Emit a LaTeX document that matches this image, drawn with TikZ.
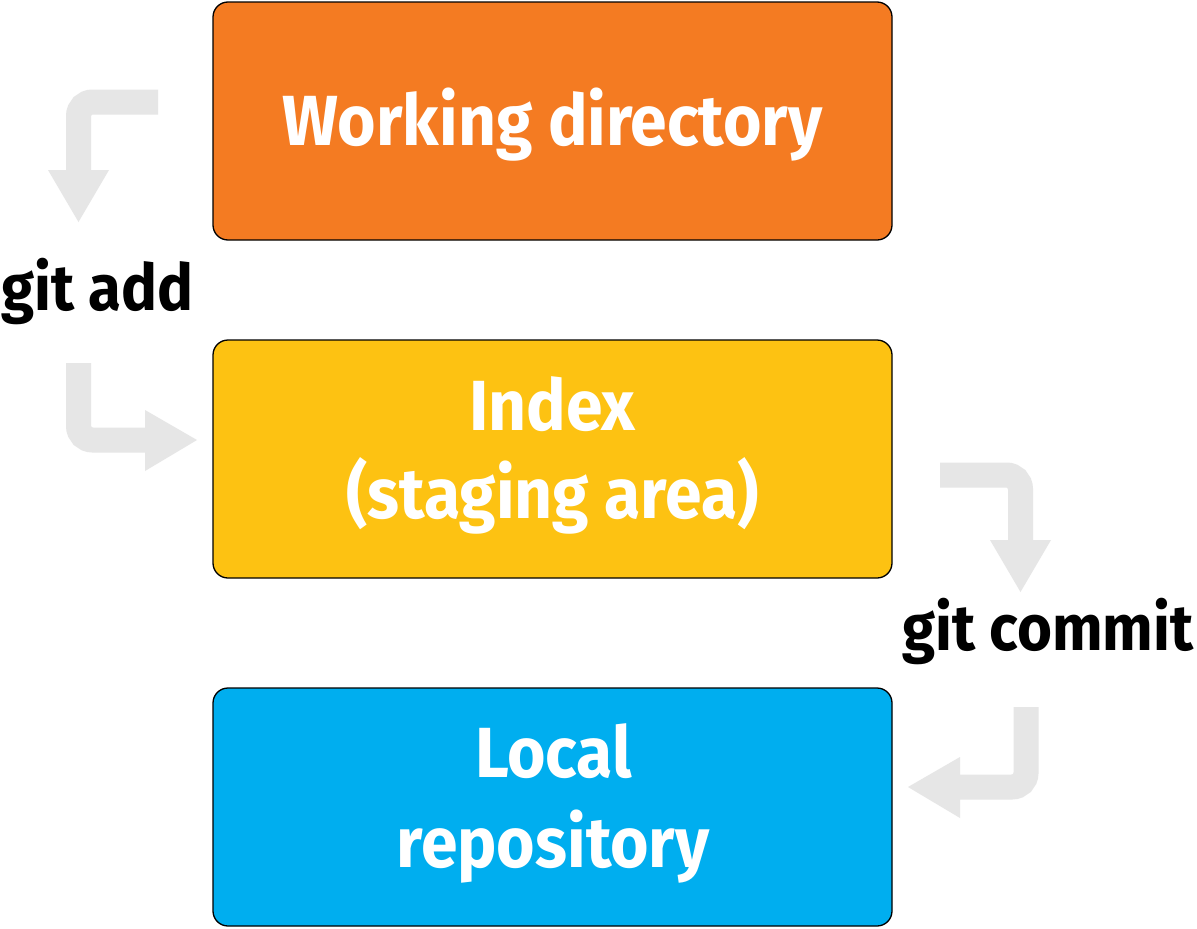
\documentclass[tikz,border=0pt]{standalone}
\usepackage{fontspec}
\setmainfont{Fira Sans}[FakeStretch=0.93]
\definecolor{wdorange}{HTML}{F47B22}
\definecolor{idxyellow}{HTML}{FDC212}
\definecolor{repoblue}{HTML}{00AEEF}
\definecolor{flowgrey}{HTML}{E6E6E6}
\tikzset{
  stagebox/.style={draw=black, line width=1.3pt, rounded corners=15pt,
    minimum width=679pt, minimum height=238pt, inner sep=0pt},
  boxtext/.style={anchor=base, text=white, inner sep=0pt,
    font=\fontsize{71}{85}\selectfont\bfseries},
  cmdtext/.style={anchor=base, text=black, inner sep=0pt,
    font=\fontsize{64.5}{78}\selectfont\bfseries},
  flow/.style={draw=flowgrey, line width=25pt, rounded corners=14pt, line cap=butt},
  flowhead/.style={fill=flowgrey, draw=none, sharp corners}
}
\begin{document}
\begin{tikzpicture}[x=1pt,y=-1pt]
\useasboundingbox[fill=white] (0,0) rectangle (1197,929);
% boxes
\node[stagebox, fill=wdorange] (wd) at (552.5,121) {};
\node[stagebox, fill=idxyellow] (idx) at (552.5,459) {};
\node[stagebox, fill=repoblue] (repo) at (552.5,807) {};
% box texts
\node[boxtext] (wdt) at (552.5,145) {Working directory};
\node[boxtext] (idxt1) at (552.5,430) {Index};
\node[boxtext] (idxt2) at (552.5,518) {(staging area)};
\node[boxtext] (repot1) at (553.5,777) {Local};
\node[boxtext] (repot2) at (553,867) {repository};
% command labels
\node[cmdtext] (add) at (97.5,310) {git add};
\node[cmdtext] (commit) at (1048,650) {git commit};
% flow arrows
\coordinate (a1s) at (158,102);
\coordinate (a1c) at (78.5,102);
\coordinate (a1e) at (78.5,172);
\coordinate (a1l) at (48,170);
\coordinate (a1r) at (109,170);
\coordinate (a1t) at (78.5,222);
\coordinate (a2s) at (78.5,363);
\coordinate (a2c) at (78.5,440);
\coordinate (a2e) at (147,440);
\coordinate (a2l) at (145,410);
\coordinate (a2r) at (145,471);
\coordinate (a2t) at (197,440);
\coordinate (a3s) at (940,475);
\coordinate (a3c) at (1020.5,475);
\coordinate (a3e) at (1020.5,542);
\coordinate (a3l) at (990,540);
\coordinate (a3r) at (1051,540);
\coordinate (a3t) at (1020.5,592);
\coordinate (a4s) at (1026,707);
\coordinate (a4c) at (1026,787);
\coordinate (a4e) at (958,787);
\coordinate (a4l) at (960,757);
\coordinate (a4r) at (960,818);
\coordinate (a4t) at (908,787);
\draw[flow] (a1s) -- (a1c) -- (a1e);
\fill[flowhead] (a1l) -- (a1r) -- (a1t) -- cycle;
\draw[flow] (a2s) -- (a2c) -- (a2e);
\fill[flowhead] (a2l) -- (a2r) -- (a2t) -- cycle;
\draw[flow] (a3s) -- (a3c) -- (a3e);
\fill[flowhead] (a3l) -- (a3r) -- (a3t) -- cycle;
\draw[flow] (a4s) -- (a4c) -- (a4e);
\fill[flowhead] (a4l) -- (a4r) -- (a4t) -- cycle;
\end{tikzpicture}
\end{document}
